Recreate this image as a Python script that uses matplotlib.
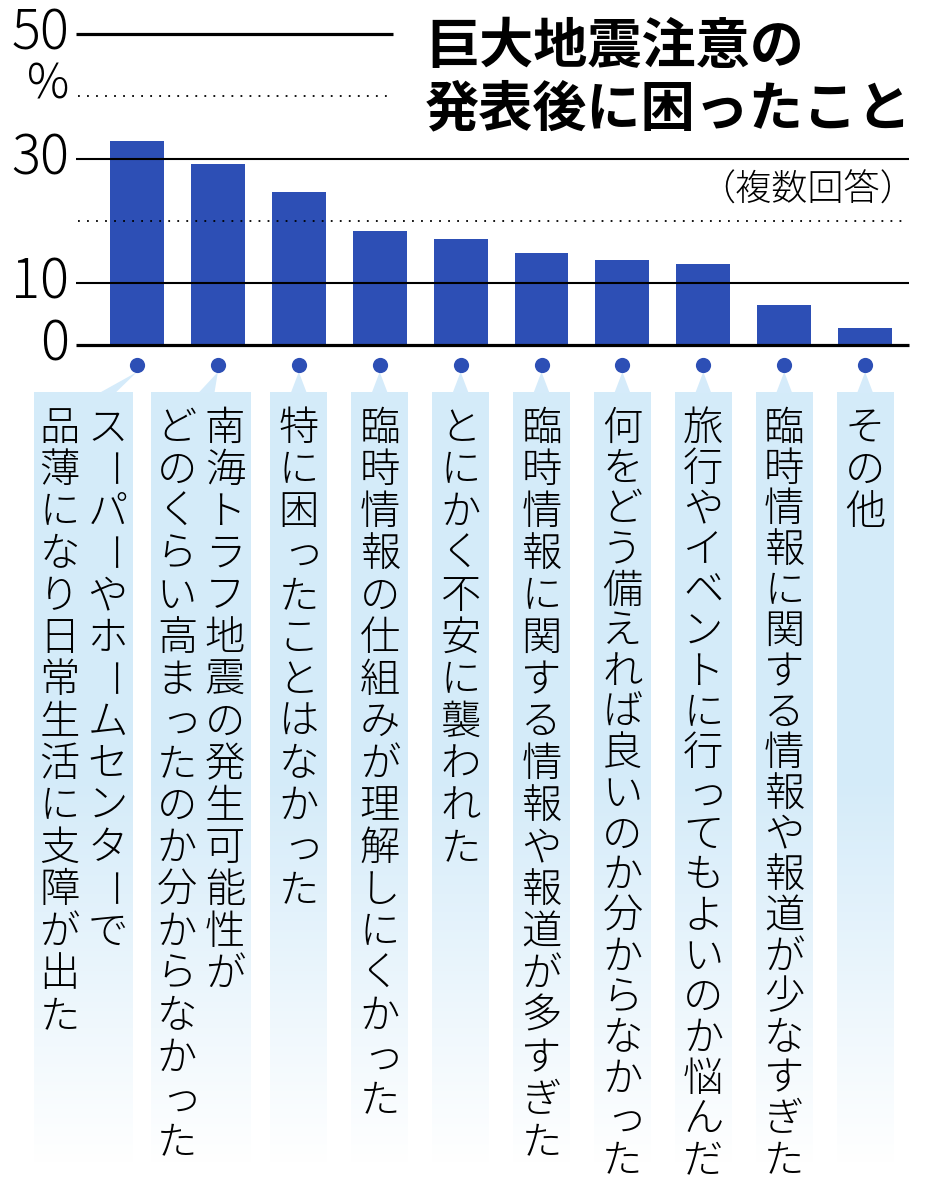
import matplotlib.pyplot as plt
import numpy as np
from matplotlib.patches import Polygon
from matplotlib.transforms import blended_transform_factory

plt.rcParams["font.family"] = ["Noto Sans CJK JP", "DejaVu Sans"]

title_lines = ["巨大地震注意の", "発表後に困ったこと"]
note = "（複数回答）"
labels = [
    ["スーパーやホームセンターで", "品薄になり日常生活に支障が出た"],
    ["南海トラフ地震の発生可能性が", "どのくらい高まったのか分からなかった"],
    ["特に困ったことはなかった"],
    ["臨時情報の仕組みが理解しにくかった"],
    ["とにかく不安に襲われた"],
    ["臨時情報に関する情報や報道が多すぎた"],
    ["何をどう備えれば良いのか分からなかった"],
    ["旅行やイベントに行ってもよいのか悩んだ"],
    ["臨時情報に関する情報や報道が少なすぎた"],
    ["その他"],
]
values = [32.9, 29.1, 24.6, 18.3, 17.1, 14.8, 13.7, 13.0, 6.4, 2.7]
tick_values = [50, 30, 10, 0]
tick_labels = ["50", "30", "10", "0"]
solid_lines = [50, 30, 10, 0]
dotted_lines = [40, 20]
short_lines = [50, 40]  # these stop before the title

BLUE = "#2d4fb5"
BOX = np.array([0.835, 0.922, 0.980])
SMALL_KANA = set("ぁぃぅぇぉっゃゅょァィゥェォッャュョ")

W, H = 939, 1200
fig = plt.figure(figsize=(W / 100, H / 100), dpi=100)

# pixel layout
x0_px, unit_px = 137, 80.9
ax_left, ax_right, ax_top, ax_bottom = 76, 909, 34.3, 345
short_right = 393


def px2x(px):
    return (px - x0_px) / unit_px


ax = fig.add_axes([ax_left / W, 1 - ax_bottom / H, (ax_right - ax_left) / W, (ax_bottom - ax_top) / H])
x = np.arange(len(values))
ax.bar(x, values, width=0.667, color=BLUE, zorder=1)

for v in solid_lines:
    right = px2x(short_right) if v in short_lines else px2x(ax_right)
    lw = 2.3 if v in (50, 0) else 1.5
    ax.hlines(v, px2x(ax_left), right, color="black", lw=lw, zorder=3, clip_on=False)
for v in dotted_lines:
    right = px2x(short_right) if v in short_lines else px2x(ax_right - 6)
    ax.hlines(v, px2x(ax_left + 2), right, color="black", lw=1.3, linestyles=(0, (1, 4)), zorder=3)

tick_tr = blended_transform_factory(fig.transFigure, ax.transData)
for v, t in zip(tick_values, tick_labels):
    ax.text(69 / W, v, t, transform=tick_tr, ha="right", va="center", fontsize=39, fontweight="light",
            clip_on=False)
ax.text(69 / W, 41.9, "%", transform=tick_tr, ha="right", va="center", fontsize=34, fontweight="light",
        clip_on=False)

ax.set_xlim(px2x(ax_left), px2x(ax_right))
ax.set_ylim(0, 50)
ax.axis("off")

# title and note
fig.text(425 / W, 1 - 47 / H, title_lines[0], fontsize=39, fontweight="bold", ha="left", va="center")
fig.text(425 / W, 1 - 110 / H, title_lines[1], fontsize=39, fontweight="bold", ha="left", va="center")
fig.text(808 / W, 1 - 190 / H, note, fontsize=26, fontweight="light", ha="center", va="center")

# label panel below the bars, y in pixels
lax = fig.add_axes([0, 0, 1, 1], zorder=-1)
box_top, box_bottom, fade_start = 392, 1165, 780
dot_y, tip_y = 365, 372
char_px, col_px = 42, 48
first_char_y = 429
box_offset = [-53.5, -17, 0, 0, 0, 0, 0, 0, 0, 0]

n_grad = 200
ys = np.linspace(box_top, box_bottom, n_grad)
alpha = np.clip((box_bottom - ys) / (box_bottom - fade_start), 0, 1)
grad = np.zeros((n_grad, 1, 4))
grad[:, 0, :3] = BOX
grad[:, 0, 3] = alpha

for i, lines in enumerate(labels):
    bar_px = x0_px + unit_px * x[i]
    ncol = len(lines)
    center_px = bar_px + box_offset[i]
    width_px = 57 + 42 * (ncol - 1)
    lax.imshow(grad, extent=[px2x(center_px - width_px / 2), px2x(center_px + width_px / 2), box_bottom, box_top],
               aspect="auto", interpolation="bilinear", zorder=1)
    base_px = (bar_px + center_px) / 2 - (3 if ncol > 1 else 0)
    lax.add_patch(Polygon([[px2x(bar_px), tip_y], [px2x(base_px - 8), box_top + 1], [px2x(base_px + 8), box_top + 1]],
                          closed=True, color=BOX, lw=0, zorder=1))
    for j, line in enumerate(lines):
        cx = center_px + ((ncol - 1) / 2 - j) * col_px
        step = min(char_px, 732 / max(len(line) - 1, 1))
        for k, ch in enumerate(line):
            cy = first_char_y + k * step
            dx, rot = 0, 0
            if ch == "ー":
                rot = -90
            elif ch in SMALL_KANA:
                dx = 4
            lax.text(px2x(cx + dx), cy, ch, fontsize=29, fontweight="light", ha="center", va="center",
                     rotation=rot, rotation_mode="anchor", zorder=3)

lax.scatter(x, np.full(len(x), dot_y), s=120, color=BLUE, zorder=4, lw=0)
lax.set_xlim(px2x(0), px2x(W))
lax.set_ylim(H, 0)
lax.axis("off")

fig.savefig("out.png", dpi=100)
